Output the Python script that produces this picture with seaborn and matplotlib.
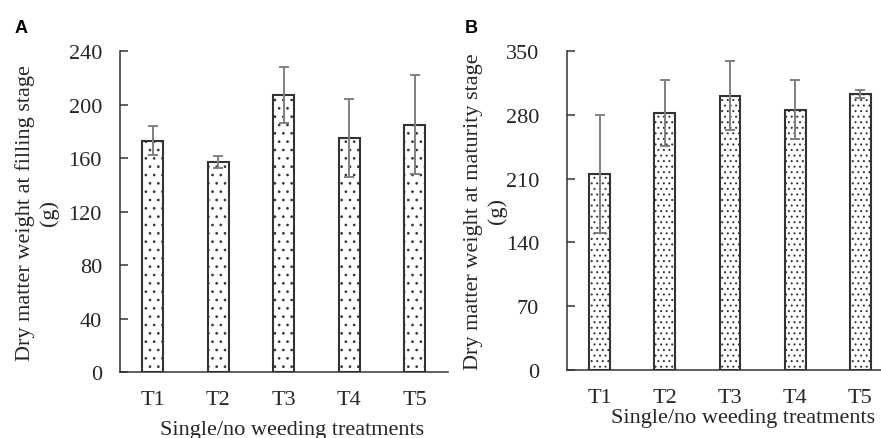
import numpy as np
import pandas as pd
import seaborn as sns
import matplotlib.pyplot as plt

# values (mean and error half-width)
treatments = ['T1', 'T2', 'T3', 'T4', 'T5']
filling_mean = [173, 157, 207, 175, 185]
filling_err = [11, 4.5, 21, 29.5, 37]
maturity_mean = [215, 282, 301, 286, 303]
maturity_err = [65, 36, 38, 32, 4]

sns.set_style('ticks')
plt.rcParams['font.family'] = ['Liberation Serif', 'DejaVu Serif']
plt.rcParams['hatch.linewidth'] = 0.7

fig = plt.figure(figsize=(8.81, 4.39), dpi=100)
ax1 = fig.add_axes([0.1362, 0.1503, 0.372, 0.731])
ax2 = fig.add_axes([0.6436, 0.1556, 0.370, 0.7253])

txt = '#262626'
fs = 16


def panel(ax, mean, err, hatch, ymax, step, ylabel, xl_pos, yl_x, ypad):
    df = pd.DataFrame({'trt': treatments, 'val': mean})
    sns.barplot(data=df, x='trt', y='val', ax=ax, color='white',
                edgecolor='#333333', linewidth=1.5, width=0.32,
                hatch=hatch, errorbar=None, saturation=1)
    ax.errorbar(np.arange(len(mean)), mean, yerr=err, fmt='none',
                ecolor='#808080', elinewidth=1.4, capsize=3.5, capthick=1.4)
    ax.set_xlim(-0.5, len(mean) - 0.5)
    ax.set_ylim(0, ymax)
    ax.set_yticks(np.arange(0, ymax + 1, step))
    sns.despine(ax=ax)
    for s in ['left', 'bottom']:
        ax.spines[s].set_linewidth(1.1)
        ax.spines[s].set_color('#333333')
    ax.tick_params(axis='y', direction='in', length=6, width=1.1,
                   color='#333333', pad=ypad, labelsize=fs, labelcolor=txt)
    ax.tick_params(axis='x', length=0, pad=13, labelsize=fs, labelcolor=txt)
    ax.set_xlabel('Single/no weeding treatments', fontsize=fs, color=txt)
    ax.xaxis.set_label_coords(*xl_pos)
    ax.set_ylabel(ylabel, fontsize=fs, color=txt, linespacing=1.3)
    ax.yaxis.set_label_coords(yl_x, 0.5)


panel(ax1, filling_mean, filling_err, '..', 240, 40,
      'Dry matter weight at filling stage\n(g)', (0.524, -0.148), -0.185, 13)
panel(ax2, maturity_mean, maturity_err, '...', 350, 70,
      'Dry matter weight at maturity stage\n(g)', (0.54, -0.12), -0.185, 20)

fig.text(15 / 881, 1 - 33 / 439, 'A', family='Liberation Sans',
         weight='bold', fontsize=13, color='black')
fig.text(465 / 881, 1 - 33 / 439, 'B', family='Liberation Sans',
         weight='bold', fontsize=13, color='black')

fig.savefig('out.png', dpi=100)
